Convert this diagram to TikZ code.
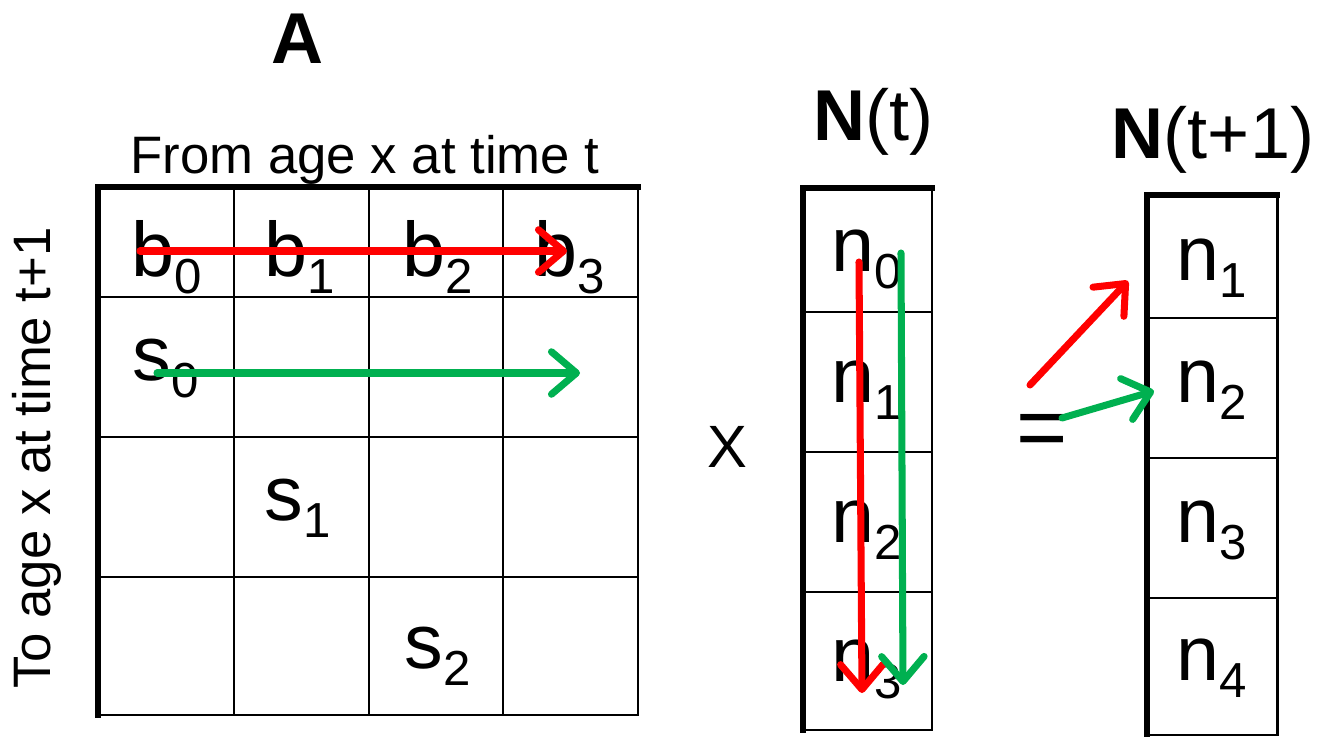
\documentclass[tikz,border=0pt]{standalone}
\usepackage{fontspec}
\setmainfont{Liberation Sans}
\usetikzlibrary{arrows.meta}
\definecolor{arrred}{RGB}{255,0,0}
\definecolor{arrgreen}{RGB}{0,176,80}
\newcommand{\ent}[2]{#1\raisebox{-10pt}{\fontsize{28}{30}\selectfont #2}}

\begin{document}
\begin{tikzpicture}[
    x=0.02cm, y=-0.02cm,
    grid/.style={line width=1.1pt},
    frame/.style={line width=1.7pt},
    heavy/.style={line width=3.4pt, line cap=rect},
    entry/.style={font=\fontsize{44}{48}\selectfont, anchor=base, inner sep=0pt},
    caption/.style={font=\fontsize{30}{34}\selectfont, anchor=base, inner sep=0pt},
    title/.style={font=\fontsize{41}{46}\selectfont, anchor=base, inner sep=0pt},
    arr/.style={line width=4pt, line cap=round, -{Straight Barb[round, length=5mm, width=8.5mm]}}
]
    \useasboundingbox (0,0) rectangle (1320,737);

    % matrix A
    \foreach \x in {234,369,503} \draw[grid] (\x,187) -- (\x,715);
    \foreach \y in {297,437,577} \draw[grid] (98,\y) -- (638,\y);
    \draw[frame] (98,187) rectangle (638,715);
    \draw[heavy] (98,715) -- (98,187) -- (638,187);

    % vector N(t)
    \foreach \y in {312,452,592} \draw[grid] (803,\y) -- (932,\y);
    \draw[frame] (803,188) rectangle (932,730);
    \draw[heavy] (803,730) -- (803,188) -- (932,188);

    % vector N(t+1)
    \foreach \y in {318,458,598} \draw[grid] (1147,\y) -- (1277,\y);
    \draw[frame] (1147,195) rectangle (1277,735);
    \draw[heavy] (1147,735) -- (1147,195) -- (1277,195);

    \node[title] (titleA) at (298,63) {\textbf{A}};
    \node[title] (Nt) at (873,140) {\textbf{N}(t)};
    \node[title] (Nu) at (1213,158) {\textbf{N}(t+1)};
    \node[caption] (from) at (365,173) {From age x at time t};
    \node[caption, rotate=90, anchor=center] (to) at (37,458) {To age x at time t+1};
    \node[caption, font=\fontsize{34}{38}\selectfont, anchor=center] (times) at (727,447) {X};
    \node[caption, font=\fontsize{50}{54}\selectfont, anchor=center] (equals) at (1042,436) {=};

    \node[entry] (b0) at (167,276) {\ent{b}{0}};
    \node[entry] (b1) at (300,276) {\ent{b}{1}};
    \node[entry] (b2) at (438,276) {\ent{b}{2}};
    \node[entry] (b3) at (570,276) {\ent{b}{3}};
    \node[entry] (s0) at (166,380) {\ent{s}{0}};
    \node[entry] (s1) at (298,520) {\ent{s}{1}};
    \node[entry] (s2) at (438,668) {\ent{s}{2}};

    \node[entry] (nt0) at (867,271) {\ent{n}{0}};
    \node[entry] (nt1) at (867,402) {\ent{n}{1}};
    \node[entry] (nt2) at (867,542) {\ent{n}{2}};
    \node[entry] (nt3) at (867,681) {\ent{n}{3}};

    \node[entry] (nu1) at (1212,280) {\ent{n}{1}};
    \node[entry] (nu2) at (1212,402) {\ent{n}{2}};
    \node[entry] (nu3) at (1212,542) {\ent{n}{3}};
    \node[entry] (nu4) at (1212,680) {\ent{n}{4}};

    \coordinate (rowB) at (140,251);
    \coordinate (rowBend) at (567,251);
    \coordinate (rowS) at (157,373);
    \coordinate (rowSend) at (580,373);
    \coordinate (colR) at (859,262);
    \coordinate (colRend) at (862,693);
    \coordinate (colG) at (901,253);
    \coordinate (colGend) at (903,685);
    \coordinate (toN1) at (1030,385);
    \coordinate (atN1) at (1128,281);
    \coordinate (toN2) at (1062,418);
    \coordinate (atN2) at (1154,391);

    \draw[arr, arrred] (rowB) -- (rowBend);
    \draw[arr, arrgreen] (rowS) -- (rowSend);
    \draw[arr, arrred] (colR) -- (colRend);
    \draw[arr, arrgreen] (colG) -- (colGend);
    \draw[arr, arrred] (toN1) -- (atN1);
    \draw[arr, arrgreen] (toN2) -- (atN2);
\end{tikzpicture}
\end{document}
